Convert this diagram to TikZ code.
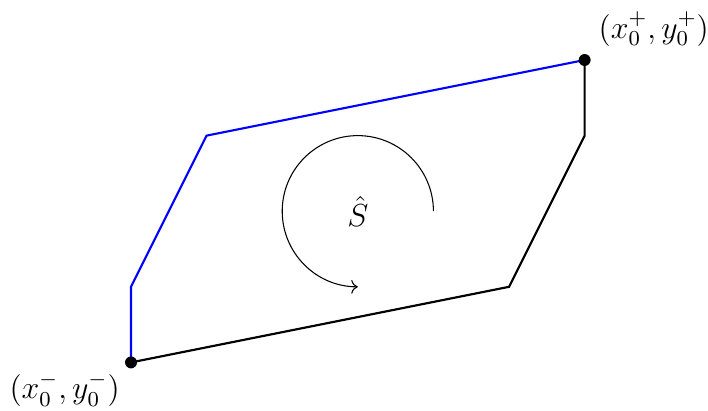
\documentclass[tikz,border=0pt]{standalone}
\usepackage{amsmath}
\usepackage{amssymb}
\usepackage{xcolor}
\usepackage{tikz}
\usetikzlibrary{arrows.meta, positioning, calc}

\begin{document}
\begin{tikzpicture}[
    pt/.style={circle, fill=black, inner sep=0pt, minimum size=4.5pt},
    side/.style={thick, line join=miter}]
  \useasboundingbox (-1.733,-0.635) rectangle (7.632,4.794);
  \coordinate (lo) at (0,0);
  \coordinate (hi) at (6,4);
  \coordinate (b1) at (0,1);
  \coordinate (b2) at (1,3);
  \coordinate (k1) at (5,1);
  \coordinate (k2) at (6,3);
  \draw[side, blue] (lo) -- (b1) -- (b2) -- (hi);
  \draw[side, black] (lo) -- (k1) -- (k2) -- (hi);
  \node[pt] (lodot) at (lo) {};
  \node[pt] (hidot) at (hi) {};
  \node[font=\large, below left=-1.5pt and -1pt of lodot] (lolab) {$(x_0^-,y_0^-)$};
  \node[font=\large, above right=0pt and 0pt of hidot] (hilab) {$(x_0^+,y_0^+)$};
  \node[font=\large] (S) at (3,2) {$\hat{S}$};
  \draw[->] (4,2) arc (0:270:1);
\end{tikzpicture}
\end{document}
